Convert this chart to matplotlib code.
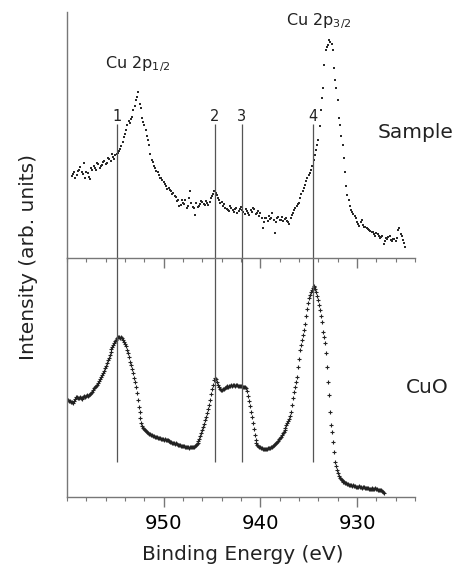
import numpy as np
import matplotlib
matplotlib.use("Agg")
import matplotlib.pyplot as plt
from matplotlib.ticker import MultipleLocator

plt.rcParams['font.family'] = ['DejaVu Sans']
plt.rcParams['mathtext.fontset'] = 'dejavusans'

# Sample spectrum (arb. units), read in two interleaved sets:
# set A at 959.5, 959.25, ... ; set B at 959.375, 959.125, ...
sample_start = 959.5
sample_step = 0.25
sample_int = [
    82, 86, 83, 88, 86, 95, 86, 81, 90, 92,
    88, 94, 92, 96, 94, 100, 97, 101, 103, 105,
    109, 116, 124, 133, 135, 141, 152, 161, 154, 140,
    133, 122, 113, 98, 92, 87, 83, 80, 76, 72,
    70, 67, 65, 61, 58, 53, 55, 58, 52, 67,
    51, 43, 51, 54, 56, 53, 55, 56, 62, 67,
    63, 58, 56, 54, 49, 47, 50, 46, 50, 47,
    51, 46, 49, 45, 48, 50, 44, 47, 45, 30,
    40, 37, 39, 45, 25, 40, 38, 41, 39, 37,
    34, 43, 48, 52, 55, 64, 70, 77, 83, 88,
    98, 108, 118, 148, 170, 208, 213, 216, 208, 178,
    158, 133, 113, 86, 63, 52, 46, 42, 36, 32,
    38, 31, 30, 28, 26, 24, 25, 22, 21, 14,
    20, 21, 18, 19, 17, 28, 24, 18, 11,
]
sample_int_b = [
    84, 80, 87, 91, 84, 80, 85, 79, 88, 90,
    95, 90, 93, 97, 95, 99, 104, 99, 104, 107,
    112, 121, 128, 137, 139, 148, 158, 166, 150, 136,
    128, 118, 104, 96, 90, 86, 80, 78, 74, 69,
    68, 64, 62, 57, 52, 58, 54, 50, 60, 55,
    50, 55, 52, 57, 54, 57, 53, 60, 64, 65,
    60, 55, 52, 50, 48, 52, 48, 49, 45, 49,
    48, 44, 47, 43, 46, 49, 45, 42, 40, 36,
    40, 42, 40, 38, 36, 41, 38, 37, 40, 36,
    40, 45, 50, 54, 60, 67, 73, 80, 85, 92,
    103, 113, 132, 160, 193, 211, 218, 214, 190, 170,
    140, 122, 100, 72, 58, 48, 44, 40, 34, 36,
    33, 31, 29, 27, 26, 22, 24, 20, 22, 17,
    19, 22, 17, 19, 20, 30, 22, 15,
]

# CuO reference spectrum, 0.1 eV steps from 960.0 eV downwards (arb. units)
cuo_start = 960.0
cuo_step = 0.1
cuo_int = [
    97, 97, 96, 96, 95, 95, 94, 96, 98, 100,
    100, 99, 99, 100, 99, 98, 99, 100, 101, 100,
    101, 102, 101, 102, 103, 104, 105, 107, 109, 110,
    111, 112, 114, 116, 118, 120, 122, 124, 126, 129,
    131, 134, 137, 139, 142, 145, 148, 150, 152, 154,
    156, 157, 159, 160, 160, 159, 160, 159, 157, 155,
    153, 151, 147, 144, 140, 135, 132, 128, 124, 119,
    115, 110, 104, 97, 90, 85, 79, 74, 71, 69,
    68, 67, 66, 65, 64, 63, 63, 62, 62, 61,
    61, 60, 60, 60, 59, 59, 59, 58, 58, 58,
    57, 58, 57, 57, 57, 56, 56, 55, 55, 54,
    54, 54, 53, 54, 53, 52, 52, 52, 51, 51,
    51, 51, 50, 50, 50, 50, 49, 50, 50, 50,
    50, 50, 51, 52, 53, 54, 56, 58, 61, 64,
    67, 70, 73, 77, 80, 84, 88, 92, 97, 103,
    108, 112, 117, 119, 118, 115, 112, 110, 108, 107,
    107, 108, 108, 109, 110, 110, 111, 110, 111, 111,
    112, 111, 112, 112, 111, 112, 112, 111, 111, 111,
    111, 111, 110, 110, 110, 109, 106, 101, 96, 91,
    85, 80, 74, 68, 62, 57, 54, 52, 51, 50,
    50, 49, 49, 48, 48, 48, 48, 48, 49, 49,
    49, 50, 50, 51, 52, 53, 54, 55, 56, 58,
    59, 60, 62, 64, 65, 67, 69, 72, 74, 76,
    78, 81, 85, 92, 99, 105, 110, 115, 120, 130,
    138, 147, 152, 157, 162, 167, 173, 181, 188, 194,
    199, 202, 205, 207, 209, 211, 210, 208, 205, 201,
    197, 192, 187, 181, 175, 165, 160, 154, 144, 130,
    115, 102, 85, 72, 65, 55, 45, 35, 31, 27,
    24, 21, 19, 18, 17, 16, 15, 15, 14, 14,
    13, 13, 12, 12, 12, 11, 12, 11, 11, 10,
    10, 10, 11, 10, 10, 9, 10, 10, 9, 9,
    9, 9, 8, 8, 8, 9, 8, 8, 8, 9,
    8, 8, 7, 7, 7, 7, 6, 5, 4,
]

line_pos = [954.8, 944.7, 941.9, 934.6]
line_labels = ['1', '2', '3', '4']
xticks_major = [950, 940, 930]

sample_e = sample_start - sample_step * np.arange(len(sample_int))
sample_e_b = sample_start - sample_step / 2 - sample_step * np.arange(len(sample_int_b))
cuo_e = cuo_start - cuo_step * np.arange(len(cuo_int))

W, H = 454, 566
fig = plt.figure(figsize=(W / 100, H / 100), dpi=100)
left, right = 67 / W, 415 / W
ax_top = fig.add_axes([left, (H - 258) / H, right - left, 246 / H])
ax_bot = fig.add_axes([left, (H - 497) / H, right - left, 239 / H], sharex=ax_top)

axis_col = '#777777'
line_col = '#555555'

for ax in (ax_top, ax_bot):
    ax.patch.set_visible(False)
    ax.set_xlim(960, 924)
    for s in ('top', 'right'):
        ax.spines[s].set_visible(False)
    for s in ('left', 'bottom'):
        ax.spines[s].set_color(axis_col)
        ax.spines[s].set_linewidth(1.0)
    ax.set_yticks([])
    ax.xaxis.set_major_locator(MultipleLocator(10))
    ax.xaxis.set_minor_locator(MultipleLocator(2))
    ax.tick_params(axis='x', which='major', direction='out', length=7, width=1,
                   color=axis_col, labelsize=14.2, pad=5)
    ax.tick_params(axis='x', which='minor', direction='out', length=3, width=0.8,
                   color=axis_col)

ax_top.set_zorder(2)
ax_top.set_ylim(0, 246)
ax_bot.set_ylim(0, 239)
ax_top.tick_params(axis='x', which='both', labelbottom=False)
ax_bot.set_xticks(xticks_major)

for e, v in ((sample_e, sample_int), (sample_e_b, sample_int_b)):
    ax_top.plot(e, v, linestyle='none', marker='s', markersize=1.7,
                color='#2a2a2a', markeredgewidth=0)
ax_bot.plot(cuo_e, cuo_int, linestyle='none', marker='+', markersize=3,
            markeredgewidth=0.8, color='#222222')

ax_top.vlines(line_pos, 0, 134, color=line_col, linewidth=0.9)
ax_bot.vlines(line_pos, 35, 239, color=line_col, linewidth=0.9)
for xp, lab in zip(line_pos, line_labels):
    ax_top.text(xp, 137, lab, ha='center', va='baseline', fontsize=10.5, color='#222222')

ax_top.text(956.1, 190, 'Cu 2p$_{1/2}$', ha='left', va='baseline', fontsize=11.5, color='#222222')
ax_top.text(937.3, 233, 'Cu 2p$_{3/2}$', ha='left', va='baseline', fontsize=11.5, color='#222222')
ax_top.text(927.9, 120, 'Sample', ha='left', va='baseline', fontsize=14.5,
            color='#222222', clip_on=False)
ax_bot.text(924.9, 104, 'CuO', ha='left', va='baseline', fontsize=14.5,
            color='#222222', clip_on=False)

fig.text(29 / W, 1 - 257.5 / H, 'Intensity (arb. units)', rotation=90,
         ha='center', va='center', fontsize=14.5, color='#222222')
fig.text(243 / W, (H - 560) / H, 'Binding Energy (eV)', ha='center', va='baseline',
         fontsize=14.5, color='#222222')

fig.savefig('out.png', dpi=100)
